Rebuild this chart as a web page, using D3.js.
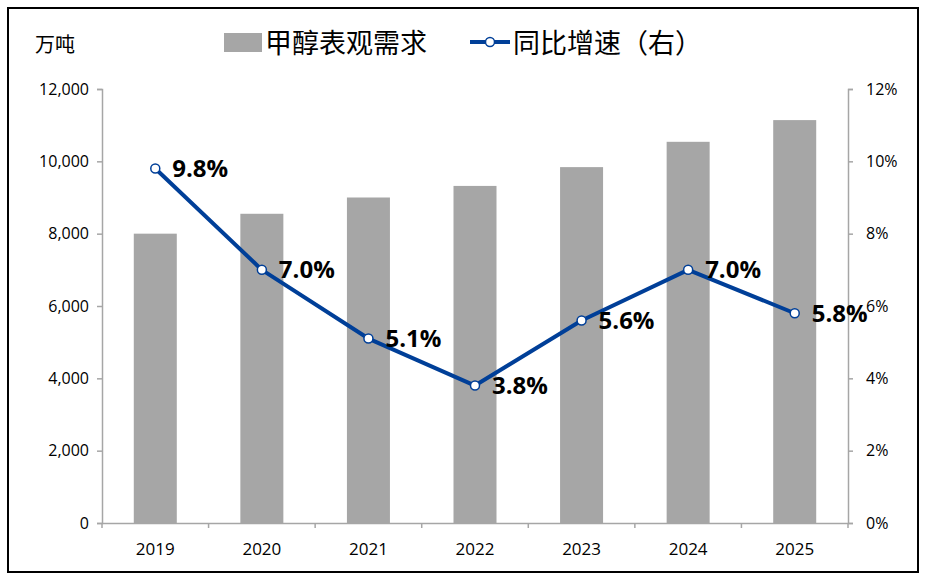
<!DOCTYPE html>
<html>
<head>
<meta charset="utf-8">
<script src="https://cdn.jsdelivr.net/npm/d3@7"></script>
<style>
  body { margin: 0; background: #fff; }
  svg { font-family: "Open Sans", "Noto Sans CJK SC", sans-serif; }
</style>
</head>
<body>
<div id="chart"></div>
<script>
// data
const YEARS = ["2019", "2020", "2021", "2022", "2023", "2024", "2025"];
const DEMAND = [8000, 8550, 9000, 9320, 9840, 10540, 11140];
const GROWTH = [9.8, 7.0, 5.1, 3.8, 5.6, 7.0, 5.8];
const LEFT_TICKS = [0, 2000, 4000, 6000, 8000, 10000, 12000];
const RIGHT_TICKS = [0, 2, 4, 6, 8, 10, 12];

const FRAME_WIDTH = 925;
const FRAME_HEIGHT = 581;
const PLOT = {left: 102, right: 848, top: 89, bottom: 523};
const BLUE = "#003f98";
const GREY = "#a6a6a6";

const svg = d3.select("#chart")
  .append("svg")
    .attr("width", FRAME_WIDTH)
    .attr("height", FRAME_HEIGHT);

// outer frame
svg.append("rect")
  .attr("x", 8).attr("y", 8)
  .attr("width", 910).attr("height", 564)
  .attr("fill", "none")
  .attr("stroke", "#000")
  .attr("stroke-width", 2);

// scales
const XB = d3.scaleBand().domain(YEARS).range([PLOT.left, PLOT.right]);
const YL = d3.scaleLinear().domain([0, 12000]).range([PLOT.bottom, PLOT.top]);
const YR = d3.scaleLinear().domain([0, 12]).range([PLOT.bottom, PLOT.top]);

// bars
svg.selectAll(".bar")
  .data(DEMAND)
  .enter()
  .append("rect")
    .attr("class", "bar")
    .attr("x", (d, i) => XB(YEARS[i]) + XB.bandwidth() / 2 - 21.5)
    .attr("width", 43)
    .attr("y", (d) => YL(d))
    .attr("height", (d) => YL(0) - YL(d))
    .attr("fill", GREY);

// left axis
const leftAxis = svg.append("g")
  .attr("transform", `translate(${PLOT.left},0)`)
  .call(d3.axisLeft(YL).tickValues(LEFT_TICKS).tickSize(5).tickPadding(8)
    .tickFormat(d3.format(",")));

// right axis
const rightAxis = svg.append("g")
  .attr("transform", `translate(${PLOT.right},0)`)
  .call(d3.axisRight(YR).tickValues(RIGHT_TICKS).tickSize(5).tickPadding(13)
    .tickFormat((d) => d + "%"));

// x axis, ticks at band edges
const xAxis = svg.append("g")
  .attr("transform", `translate(0,${PLOT.bottom})`)
  .call(d3.axisBottom(XB).tickSize(0).tickPadding(20));

xAxis.selectAll(".edge")
  .data(YEARS.concat(["end"]))
  .enter()
  .append("line")
    .attr("class", "edge")
    .attr("x1", (d, i) => PLOT.left + i * XB.step())
    .attr("x2", (d, i) => PLOT.left + i * XB.step())
    .attr("y1", 0).attr("y2", 5)
    .attr("stroke", GREY).attr("stroke-width", 1.5);

[leftAxis, rightAxis, xAxis].forEach((g) => {
  g.select(".domain").attr("stroke", GREY).attr("stroke-width", 1.5);
  g.selectAll(".tick line").attr("stroke", GREY).attr("stroke-width", 1.5);
  g.selectAll("text")
    .attr("fill", "#000")
    .style("font-size", "16px")
    .style("font-family", "'Open Sans', sans-serif");
});
xAxis.selectAll("text").style("font-size", "17px");

// growth line
const line = d3.line()
  .x((d, i) => XB(YEARS[i]) + XB.bandwidth() / 2)
  .y((d) => YR(d));

svg.append("path")
  .datum(GROWTH)
  .attr("d", line)
  .attr("fill", "none")
  .attr("stroke", BLUE)
  .attr("stroke-width", 4)
  .attr("stroke-linejoin", "round");

svg.selectAll(".pt")
  .data(GROWTH)
  .enter()
  .append("circle")
    .attr("class", "pt")
    .attr("cx", (d, i) => XB(YEARS[i]) + XB.bandwidth() / 2)
    .attr("cy", (d) => YR(d))
    .attr("r", 4.5)
    .attr("fill", "#fff")
    .attr("stroke", BLUE)
    .attr("stroke-width", 1.5);

svg.selectAll(".lbl")
  .data(GROWTH)
  .enter()
  .append("text")
    .attr("class", "lbl")
    .attr("x", (d, i) => XB(YEARS[i]) + XB.bandwidth() / 2 + 17)
    .attr("y", (d) => YR(d))
    .attr("dy", "0.36em")
    .style("font-size", "24px")
    .style("font-weight", "bold")
    .text((d) => d.toFixed(1) + "%");

// unit label
svg.append("text")
  .attr("x", 35).attr("y", 52)
  .style("font-family", "'Noto Sans CJK SC', sans-serif")
  .style("font-size", "20px")
  .text("万吨");

// legend
const legend = svg.append("g")
  .style("font-family", "'Noto Sans CJK SC', sans-serif")
  .style("font-size", "27px");

legend.append("rect")
  .attr("x", 224).attr("y", 33)
  .attr("width", 38).attr("height", 19)
  .attr("fill", GREY);
legend.append("text")
  .attr("x", 265).attr("y", 53)
  .text("甲醇表观需求");

legend.append("line")
  .attr("x1", 470).attr("x2", 510)
  .attr("y1", 42).attr("y2", 42)
  .attr("stroke", BLUE).attr("stroke-width", 4);
legend.append("circle")
  .attr("cx", 490).attr("cy", 42).attr("r", 4.5)
  .attr("fill", "#fff").attr("stroke", BLUE).attr("stroke-width", 1.5);
legend.append("text")
  .attr("x", 513).attr("y", 53)
  .text("同比增速（右）");
</script>
</body>
</html>
